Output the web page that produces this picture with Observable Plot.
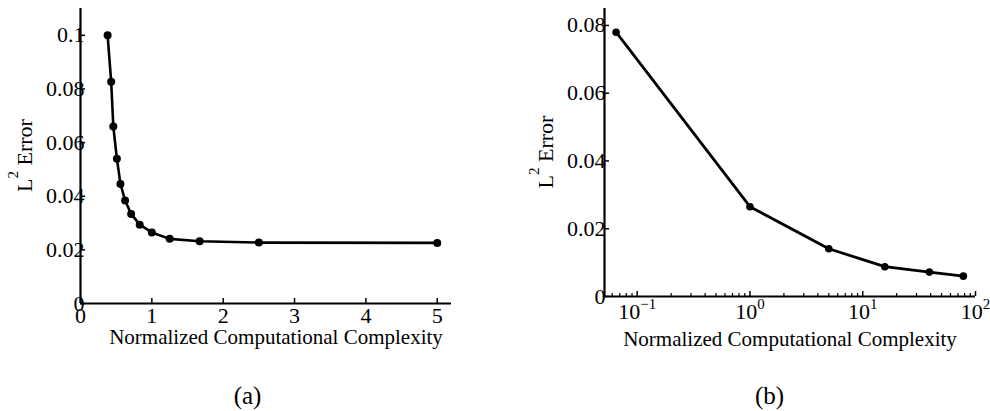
<!DOCTYPE html>
<html>
<head>
<meta charset="utf-8">
<script src="https://cdn.jsdelivr.net/npm/d3@7"></script>
<script src="https://cdn.jsdelivr.net/npm/@observablehq/plot@0.6"></script>
<style>
  body { margin: 0; background: #fff; font-family: "Liberation Serif", "Times New Roman", serif; color: #000; overflow: hidden; }
  #row { display: flex; width: 990px; }
  .panel { width: 495px; }
  .cap { font-family: "Liberation Serif", "Times New Roman", serif; font-size: 25px; line-height: 30px; text-align: center; margin-top: 21px; position: relative; }
  svg text, svg tspan { font-family: "Liberation Serif", "Times New Roman", serif !important; }
</style>
</head>
<body>
<div id="row">
  <div class="panel" id="pa"></div>
  <div class="panel" id="pb"></div>
</div>
<script>
// Panel (a): L2 error against normalized complexity, linear axes
const complexityA = [0.38, 0.43, 0.46, 0.51, 0.56, 0.625, 0.71, 0.83, 1.0, 1.25, 1.67, 2.5, 5.0];
const errorA = [0.1, 0.0827, 0.066, 0.054, 0.0446, 0.0384, 0.0334, 0.0294, 0.0265, 0.0241, 0.0232, 0.0227, 0.0226];
const xTicksA = [0, 1, 2, 3, 4, 5];
const yTicksA = [0, 0.02, 0.04, 0.06, 0.08, 0.1];

// Panel (b): same error, logarithmic complexity axis
const complexityB = [0.065, 1, 5, 15.7, 39, 78];
const errorB = [0.078, 0.0265, 0.0141, 0.0088, 0.0072, 0.006];
const xTicksB = [0.1, 1, 10, 100];
const yTicksB = [0, 0.02, 0.04, 0.06, 0.08];

const xLabel = "Normalized Computational Complexity";
const yLabelBase = "L";
const yLabelSup = "2";
const yLabelRest = " Error";
const captions = ["(a)", "(b)"];

const FONT = "Liberation Serif, Times New Roman, serif";
const FS = 21;   // axis title size
const TS = 22;   // tick label size
const W = 495, H = 360;

// minor ticks for the log axis: 2..9 times each decade
const domainB = [0.0513, 100];
const minorB = [];
for (let e = -2; e <= 1; e++) for (let m = 2; m <= 9; m++) {
  const v = m * Math.pow(10, e);
  if (v >= domainB[0] && v <= domainB[1]) minorB.push(v);
}

const plotA = Plot.plot({
  width: W, height: H,
  marginLeft: 80, marginRight: 44, marginTop: 8, marginBottom: 57,
  style: {fontFamily: FONT, fontSize: FS + "px", color: "#000", background: "#fff", overflow: "visible"},
  x: {domain: [0, 5.2]},
  y: {domain: [0, 0.11]},
  marks: [
    Plot.axisX({ticks: xTicksA, tickSize: -5, tickPadding: 9, tickFormat: d => String(d), label: null, strokeWidth: 1.5}),
    Plot.axisY({ticks: yTicksA, tickSize: -5, tickPadding: 1, tickFormat: d => String(d), label: null, strokeWidth: 1.5}),
    Plot.ruleY([0], {stroke: "#000", strokeWidth: 2.2}),
    Plot.ruleX([0], {stroke: "#000", strokeWidth: 2.2}),
    Plot.line(errorA, {x: complexityA, y: errorA, stroke: "#000", strokeWidth: 2.6}),
    Plot.dot(errorA, {x: complexityA, y: errorA, r: 4, fill: "#000", stroke: null}),
    Plot.text([xLabel], {text: d => d, frameAnchor: "bottom", lineAnchor: "top", dy: 26, dx: 10, fontSize: FS})
  ]
});

const plotB = Plot.plot({
  width: W, height: H,
  marginLeft: 109, marginRight: 15, marginTop: 8, marginBottom: 64,
  style: {fontFamily: FONT, fontSize: FS + "px", color: "#000", background: "#fff", overflow: "visible"},
  x: {type: "log", domain: domainB},
  y: {domain: [0, 0.085]},
  marks: [
    Plot.axisX({ticks: minorB, tickSize: -3, tickFormat: () => "", label: null, strokeWidth: 1.2}),
    Plot.axisX({ticks: xTicksB, tickSize: -5, tickPadding: 12, tickFormat: d => "10^" + Math.round(Math.log10(d)), label: null, strokeWidth: 1.5}),
    Plot.axisY({ticks: yTicksB, tickSize: -5, tickPadding: 4, tickFormat: d => String(d), label: null, strokeWidth: 1.5}),
    Plot.ruleY([0], {stroke: "#000", strokeWidth: 2.2}),
    Plot.ruleX([domainB[0]], {stroke: "#000", strokeWidth: 2.2}),
    Plot.line(errorB, {x: complexityB, y: errorB, stroke: "#000", strokeWidth: 2.8}),
    Plot.dot(errorB, {x: complexityB, y: errorB, r: 3.8, fill: "#000", stroke: null}),
    Plot.text([xLabel], {text: d => d, frameAnchor: "bottom", lineAnchor: "top", dy: 35, dx: 0, fontSize: FS})
  ]
});

for (const svg of [plotA, plotB]) {
  svg.setAttribute("font-family", FONT);
  // tick labels get an explicit size on the element itself
  d3.select(svg).selectAll('g[aria-label$="tick label"]')
    .attr("font-size", TS).style("font-size", TS + "px")
    .selectAll("text").style("font-size", TS + "px");
}

// turn "10^k" tick strings into a base with a raised exponent
d3.select(plotB).selectAll('g[aria-label="x-axis tick label"] text').each(function () {
  const s = this.textContent;
  if (!s.includes("^")) return;
  const [base, exp] = s.split("^");
  const t = d3.select(this);
  t.text(null);
  t.append("tspan").text(base);
  t.append("tspan").style("font-size", "15px").attr("dy", -10).text(exp.replace("-", "\u2212"));
});

// rotated y-axis title with a superscript
function yTitle(svg, x, plot) {
  const [y0, y1] = plot.scale("y").range;
  const cy = (y0 + y1) / 2;
  const t = d3.select(svg).append("text")
    .attr("transform", `translate(${x},${cy}) rotate(-90)`)
    .attr("text-anchor", "middle")
    .style("font-size", "22px")
    .attr("fill", "#000");
  t.append("tspan").text(yLabelBase);
  t.append("tspan").style("font-size", "15px").attr("dy", -14).text(yLabelSup);
  t.append("tspan").attr("dy", 14).text(yLabelRest);
}
yTitle(plotA, 32, plotA);
yTitle(plotB, 58, plotB);

function addPanel(id, svg, caption, shift) {
  const host = document.getElementById(id);
  host.appendChild(svg);
  const c = document.createElement("div");
  c.className = "cap";
  c.style.left = shift + "px";
  c.textContent = caption;
  host.appendChild(c);
}
addPanel("pa", plotA, captions[0], 0);
addPanel("pb", plotB, captions[1], 27);
</script>
</body>
</html>
